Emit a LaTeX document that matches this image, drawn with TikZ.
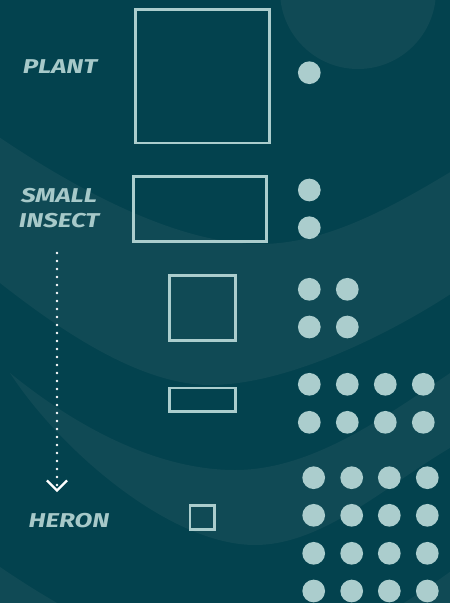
\documentclass[tikz,border=0pt]{standalone}
\usepackage{fontspec}
\usetikzlibrary{arrows.meta}
\newfontfamily\labelfont[FakeStretch=1.3]{Fira Sans}
\definecolor{bg}{HTML}{03424E}
\definecolor{band}{HTML}{104A55}
\definecolor{pale}{HTML}{ABCDCD}
\definecolor{labelc}{HTML}{A7C9C9}
\tikzset{
  box/.style={draw=pale, line width=2.6pt, inner sep=0pt, fill=none},
  dot/.style={circle, fill=pale, minimum size=22.7pt, inner sep=0pt},
  lbl/.style={text=labelc, inner sep=0pt, align=center,
    font=\labelfont\bfseries\itshape\fontsize{20}{25}\selectfont},
  dotline/.style={white, line width=2.8pt, line cap=round, dash pattern=on 0pt off 8pt}
}
\begin{document}
\begin{tikzpicture}[x=1pt,y=-1pt]
\useasboundingbox (0,0) rectangle (450,603);
\fill[bg] (0,0) rectangle (450,603);
\begin{scope}
\clip (0,0) rectangle (450,603);
\fill[band] (358,-9) circle[radius=78];
% band 1
\fill[band] (-20,124) .. controls (60,180) and (170,244) .. (260,244)
  .. controls (330,244) and (400,203) .. (470,160)
  -- (470,281) .. controls (400,330) and (290,385) .. (210,385)
  .. controls (140,385) and (60,330) .. (0,283) -- (-20,267) -- cycle;
% band 2
\fill[band] (10,373) .. controls (80,430) and (160,470) .. (235,470)
  .. controls (320,470) and (400,405) .. (470,360)
  -- (470,437) .. controls (400,472) and (330,545) .. (255,545)
  .. controls (170,545) and (60,450) .. (10,373) -- cycle;
% band 3
\fill[band] (-20,553) .. controls (60,610) and (150,660) .. (230,660)
  .. controls (320,660) and (400,610) .. (470,557) -- (470,700) -- (-20,700) -- cycle;
\end{scope}

% boxes
\node[box, minimum width=133.8pt, minimum height=133.3pt] (b1) at (202.4,76.3) {};
\node[box, minimum width=133pt, minimum height=64.8pt] (b2) at (200,208.9) {};
\node[box, minimum width=65.8pt, minimum height=64.8pt] (b3) at (202.4,307.9) {};
\node[box, minimum width=65.8pt, minimum height=23.3pt] (b4) at (202.4,399.7) {};
\node[box, minimum width=24.7pt, minimum height=23.8pt] (b5) at (202.4,517.4) {};

% dots
\node[dot] (d1) at (309.3,72.7) {};
\node[dot] (d2a) at (309.3,190) {};
\node[dot] (d2b) at (309.3,227.7) {};
\foreach \x [count=\i] in {309.3,347.3} {
  \foreach \y [count=\j] in {289.3,327} {
    \node[dot] (d3-\i-\j) at (\x,\y) {};
  }
}
\foreach \x [count=\i] in {309.3,347.3,385.3,423.3} {
  \foreach \y [count=\j] in {384.3,422.3} {
    \node[dot] (d4-\i-\j) at (\x,\y) {};
  }
}
\foreach \x [count=\i] in {313.7,351.7,389.3,427.3} {
  \foreach \y [count=\j] in {477.7,515.3,553.3,591} {
    \node[dot] (d5-\i-\j) at (\x,\y) {};
  }
}

% labels
\node[lbl] (plant) at (60,67) {PLANT};
\node[lbl] (insect) at (59,208.5) {SMALL\\INSECT};
\node[lbl] (heron) at (69,521) {HERON};

% arrow
\coordinate (atop) at (57,253);
\coordinate (atip) at (57,492);
\draw[dotline, -{Straight Barb[length=10pt, width=20pt, line width=2.2pt, line cap=butt]}] (atop) -- (atip);
\end{tikzpicture}
\end{document}
